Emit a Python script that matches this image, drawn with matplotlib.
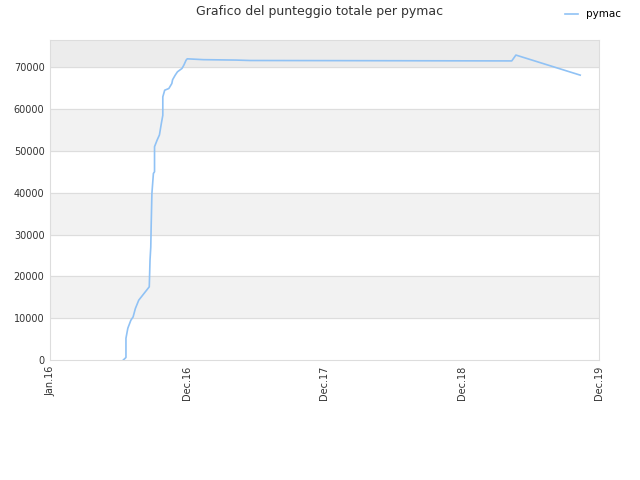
import matplotlib
matplotlib.use("Agg")
import matplotlib.pyplot as plt
import matplotlib.dates as mdates
import numpy as np

plt.rcParams.update({'font.size': 7, 'font.family': 'DejaVu Sans'})

dates = ['2016-07-14', '2016-07-21', '2016-07-21', '2016-07-26', '2016-08-03',
         '2016-08-09', '2016-08-15', '2016-08-24', '2016-08-31', '2016-09-21',
         '2016-09-23', '2016-09-25', '2016-09-26', '2016-09-28', '2016-10-02',
         '2016-10-05', '2016-10-05', '2016-10-12', '2016-10-18', '2016-10-23',
         '2016-10-27', '2016-10-27', '2016-11-01', '2016-11-12', '2016-11-20',
         '2016-11-22', '2016-11-29', '2016-12-05', '2016-12-17', '2016-12-22',
         '2016-12-28', '2016-12-31', '2017-02-12', '2017-05-10', '2017-06-16',
         '2019-05-13', '2019-05-24', '2019-11-11']
scores = [0, 600, 5200, 7600, 9500,
          10300, 12300, 14300, 15100, 17500,
          23900, 27000, 31800, 39800, 44600,
          45000, 51000, 52600, 53800, 56500,
          58500, 62900, 64500, 64900, 66100,
          67000, 68100, 68900, 69700, 70500,
          71700, 72000, 71800, 71700, 71600,
          71500, 72900, 68100]

tick_dates = ['2016-01-01', '2016-12-31', '2017-12-31', '2018-12-31', '2019-12-31']
tick_labels = ['Jan.16', 'Dec.16', 'Dec.17', 'Dec.18', 'Dec.19']

x = mdates.datestr2num(dates)
ticks = mdates.datestr2num(tick_dates)
ymax = 76500

fig = plt.figure(figsize=(6.4, 4.8), dpi=100)
ax = fig.add_axes([50 / 640, 1 - 360 / 480, 549 / 640, 320 / 480])

# alternating bands
for lo in range(10000, 70000, 20000):
    ax.axhspan(lo, lo + 10000, color='#f2f2f2', zorder=0)
ax.axhspan(70000, ymax, color='#ececec', zorder=0)
for g in range(10000, 80000, 10000):
    ax.axhline(g, color='#dddddd', lw=0.8, zorder=1)

ax.plot(x, scores, color='#90c2f5', lw=1.2, label='pymac', zorder=3)

ax.set_xlim(ticks[0], ticks[-1])
ax.set_ylim(0, ymax)
ax.set_xticks(ticks)
ax.set_xticklabels(tick_labels, rotation=90, color='#333333')
ax.set_yticks(np.arange(0, 80000, 10000))
ax.tick_params(length=0, colors='#333333', pad=4)
for s in ax.spines.values():
    s.set_color('#dddddd')

fig.text(0.5, 1 - 12 / 480, 'Grafico del punteggio totale per pymac',
         ha='center', va='center', fontsize=9, color='#333333')
fig.legend(loc='upper right', bbox_to_anchor=(0.985, 1.0), frameon=False,
           handlelength=1.2, handletextpad=0.8, fontsize=7.5)

fig.savefig('out.png', dpi=100)
